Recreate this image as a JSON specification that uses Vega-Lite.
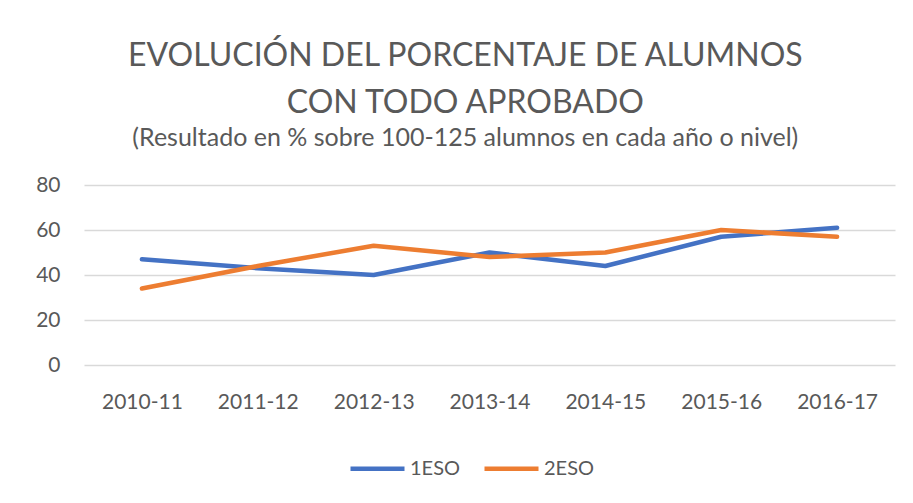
{
  "$schema": "https://vega.github.io/schema/vega-lite/v6.json",
  "width": 811,
  "height": 180,
  "autosize": {"type": "none"},
  "padding": {"left": 84, "top": 185, "right": 18, "bottom": 138},
  "background": "white",
  "title": {
    "text": ["EVOLUCIÓN DEL PORCENTAJE DE ALUMNOS", "CON TODO APROBADO"],
    "subtitle": "(Resultado en % sobre 100-125 alumnos en cada año o nivel)",
    "font": "Lato",
    "subtitleFont": "Lato",
    "fontSize": 32,
    "fontWeight": "normal",
    "lineHeight": 47,
    "subtitleFontSize": 25,
    "subtitleColor": "#595959",
    "color": "#595959",
    "anchor": "middle",
    "frame": "bounds",
    "offset": 22,
    "subtitlePadding": 6
  },
  "data": {
    "values": [
      {"curso": "2010-11", "nivel": "1ESO", "valor": 47},
      {"curso": "2011-12", "nivel": "1ESO", "valor": 43},
      {"curso": "2012-13", "nivel": "1ESO", "valor": 40},
      {"curso": "2013-14", "nivel": "1ESO", "valor": 50},
      {"curso": "2014-15", "nivel": "1ESO", "valor": 44},
      {"curso": "2015-16", "nivel": "1ESO", "valor": 57},
      {"curso": "2016-17", "nivel": "1ESO", "valor": 61},
      {"curso": "2010-11", "nivel": "2ESO", "valor": 34},
      {"curso": "2011-12", "nivel": "2ESO", "valor": 44},
      {"curso": "2012-13", "nivel": "2ESO", "valor": 53},
      {"curso": "2013-14", "nivel": "2ESO", "valor": 48},
      {"curso": "2014-15", "nivel": "2ESO", "valor": 50},
      {"curso": "2015-16", "nivel": "2ESO", "valor": 60},
      {"curso": "2016-17", "nivel": "2ESO", "valor": 57}
    ]
  },
  "mark": {"type": "line", "strokeWidth": 4.5, "strokeCap": "round", "strokeJoin": "round"},
  "encoding": {
    "x": {
      "field": "curso",
      "type": "nominal",
      "title": null,
      "axis": {
        "labelAngle": 0,
        "labelFont": "Lato",
        "labelFontSize": 21,
        "labelColor": "#595959",
        "labelPadding": 26,
        "ticks": false,
        "tickSize": 0,
        "domain": false,
        "grid": false
      }
    },
    "y": {
      "field": "valor",
      "type": "quantitative",
      "title": null,
      "scale": {"domain": [0, 80], "nice": false},
      "axis": {
        "values": [0, 20, 40, 60, 80],
        "labelFont": "Lato",
        "labelFontSize": 21,
        "labelColor": "#595959",
        "labelPadding": 24,
        "ticks": false,
        "tickSize": 0,
        "domain": false,
        "grid": true,
        "gridColor": "#D9D9D9",
        "gridWidth": 1.3
      }
    },
    "color": {
      "field": "nivel",
      "type": "nominal",
      "scale": {"domain": ["1ESO", "2ESO"], "range": ["#4472C4", "#ED7D31"]},
      "legend": {
        "title": null,
        "orient": "none",
        "direction": "horizontal",
        "legendX": 264,
        "legendY": 254,
        "symbolType": "stroke",
        "symbolSize": 2916,
        "symbolStrokeWidth": 4.5,
        "labelFont": "Lato",
        "labelFontSize": 20,
        "labelColor": "#595959",
        "labelOffset": 3,
        "columnPadding": 14
      }
    }
  },
  "config": {
    "view": {"stroke": null}
  }
}
